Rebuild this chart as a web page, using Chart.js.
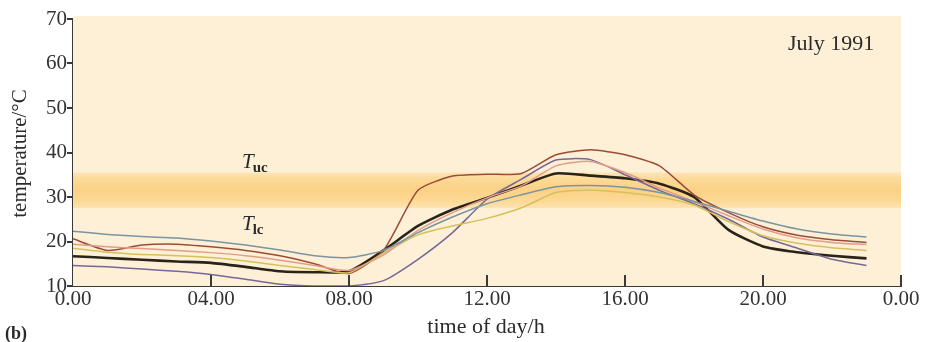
<!DOCTYPE html>
<html>
<head>
<meta charset="utf-8">
<script src="https://cdn.jsdelivr.net/npm/chart.js@4.4.0/dist/chart.umd.min.js"></script>
<style>
  html, body { margin: 0; padding: 0; background: #fff; }
  #wrap { width: 925px; height: 342px; }
</style>
</head>
<body>
<div id="wrap"><canvas id="chart" width="925" height="342"></canvas></div>
<script>
// Data (hourly 0..23 h)
const hours = [0,1,2,3,4,5,6,7,8,9,10,11,12,13,14,15,16,17,18,19,20,21,22,23];
const tealSeries   = [22.3,21.6,21.1,20.8,20.1,19.2,18.1,16.8,16.4,18.0,22.0,25.5,28.5,30.5,32.3,32.6,32.2,31.0,29.0,26.8,24.6,22.8,21.7,21.0];
const redSeries    = [20.6,18.0,19.2,19.4,18.8,18.0,16.8,15.0,12.8,18.0,31.5,34.7,35.1,35.3,39.5,40.6,39.5,37.0,30.5,26.5,23.3,21.4,20.4,19.8];
const salmonSeries = [19.4,18.8,18.4,18.0,17.5,16.8,15.8,14.6,13.5,17.0,22.5,26.5,29.8,32.5,37.0,38.0,35.5,32.0,29.0,25.8,22.8,20.8,19.8,19.3];
const yellowSeries = [18.5,17.6,17.1,16.8,16.4,15.6,14.6,13.7,13.0,17.4,21.5,23.5,25.2,27.6,31.0,31.6,31.0,30.0,28.2,24.5,21.3,19.6,18.6,18.0];
const meanSeries   = [16.7,16.3,15.9,15.5,15.2,14.3,13.3,13.1,13.3,18.0,23.5,27.2,29.8,32.6,35.3,34.8,34.2,33.0,30.0,22.6,18.9,17.6,16.8,16.2];
const purpleSeries = [14.6,14.3,13.8,13.3,12.6,11.5,10.4,10.0,10.0,11.2,16.0,22.0,29.5,34.0,38.3,38.4,35.0,31.5,28.5,25.0,21.0,18.5,16.0,14.6];
const xTicks = [0,4,8,12,16,20,24];
const yTicks = [10,20,30,40,50,60,70];
const comfortBand = [27.5, 35.5]; // T_lc .. T_uc

const serif = '"Liberation Serif", "DejaVu Serif", serif';

function pts(arr) { return hours.map((h, i) => ({ x: h, y: arr[i] })); }

const seriesDefs = [
  { data: tealSeries,   color: '#7b94a0', width: 1.5 },
  { data: salmonSeries, color: '#e39c8a', width: 1.5 },
  { data: yellowSeries, color: '#d6c05c', width: 1.5 },
  { data: purpleSeries, color: '#76679a', width: 1.5 },
  { data: redSeries,    color: '#9c4b36', width: 1.5 },
  { data: meanSeries,   color: '#2a2418', width: 2.6 }
];

// background, comfort band, inward x ticks and labels
const decor = {
  id: 'decor',
  beforeDatasetsDraw(chart) {
    const { ctx, chartArea: a, scales } = chart;
    const y = scales.y;
    ctx.save();
    ctx.fillStyle = '#fdf0d6';
    ctx.fillRect(a.left, a.top - 3, a.right - a.left, a.bottom - a.top + 3);
    const yt = y.getPixelForValue(comfortBand[1]);
    const yb = y.getPixelForValue(comfortBand[0]);
    const g = ctx.createLinearGradient(0, yt, 0, yb);
    g.addColorStop(0, '#fde4b4');
    g.addColorStop(0.2, '#fcd995');
    g.addColorStop(0.5, '#fbd185');
    g.addColorStop(0.8, '#fcd996');
    g.addColorStop(1, '#fde4b4');
    ctx.fillStyle = g;
    ctx.fillRect(a.left, yt, a.right - a.left, yb - yt);
    ctx.restore();
  },
  afterDraw(chart) {
    const { ctx, chartArea: a, scales } = chart;
    const x = scales.x;
    ctx.save();
    ctx.strokeStyle = '#3a3a3a';
    ctx.lineWidth = 2;
    xTicks.forEach(v => {
      if (v === 0) return;
      const px = Math.round(x.getPixelForValue(v));
      ctx.beginPath();
      ctx.moveTo(px, a.bottom);
      ctx.lineTo(px, a.bottom - 11);
      ctx.stroke();
    });
    ctx.fillStyle = '#2b2b2b';
    ctx.textBaseline = 'alphabetic';
    // y title
    ctx.save();
    ctx.translate(26, (a.top + a.bottom) / 2 + 1);
    ctx.rotate(-Math.PI / 2);
    ctx.textAlign = 'center';
    ctx.font = '21px ' + serif;
    ctx.fillText('temperature/°C', 0, 0);
    ctx.restore();
    // x title
    ctx.textAlign = 'center';
    ctx.font = '22px ' + serif;
    ctx.fillText('time of day/h', x.getPixelForValue(12) - 1, 333);
    ctx.textAlign = 'left';
    ctx.font = 'bold 18px ' + serif;
    ctx.fillText('(b)', 5, 339);
    ctx.font = '22px ' + serif;
    ctx.fillText('July 1991', 788, 50);
    // T_uc and T_lc
    const tx = 242;
    [['uc', 168], ['lc', 230]].forEach(([sub, by]) => {
      ctx.font = 'italic 21px ' + serif;
      ctx.fillText('T', tx, by);
      const w = ctx.measureText('T').width;
      ctx.font = 'bold 15px ' + serif;
      ctx.fillText(sub, tx + w - 1, by + 4);
    });
    ctx.restore();
  }
};

new Chart(document.getElementById('chart'), {
  type: 'line',
  data: {
    datasets: seriesDefs.map(s => ({
      data: pts(s.data),
      borderColor: s.color,
      borderWidth: s.width,
      pointRadius: 0,
      tension: 0.2,
      fill: false
    }))
  },
  options: {
    responsive: false,
    animation: false,
    events: [],
    layout: { padding: { top: 19, right: 24, left: 0, bottom: 0 } },
    plugins: { legend: { display: false }, tooltip: { enabled: false } },
    scales: {
      x: {
        type: 'linear',
        min: 0, max: 24,
        afterBuildTicks: s => { s.ticks = xTicks.map(v => ({ value: v })); },
        afterFit: s => { s.height = 56; },
        grid: { display: false, drawTicks: false },
        border: { display: true, color: '#3a3a3a', width: 2 },
        ticks: {
          padding: 1,
          color: '#333',
          font: { family: serif, size: 21 },
          maxRotation: 0,
          autoSkip: false,
          callback: v => v === 24 ? '0.00' : (v === 0 ? '0.00' : (v < 10 ? '0' : '') + v + '.00')
        }
      },
      y: {
        min: 10, max: 70,
        afterBuildTicks: s => { s.ticks = yTicks.map(v => ({ value: v })); },
        afterFit: s => { s.width = 73; },
        grid: { display: true, drawOnChartArea: false, drawTicks: true, tickLength: 6, color: '#3a3a3a', lineWidth: 2 },
        border: { display: true, color: '#3a3a3a', width: 2 },
        ticks: {
          padding: 0,
          color: '#333',
          font: { family: serif, size: 21 }
        }
      }
    }
  },
  plugins: [decor]
});
</script>
</body>
</html>
